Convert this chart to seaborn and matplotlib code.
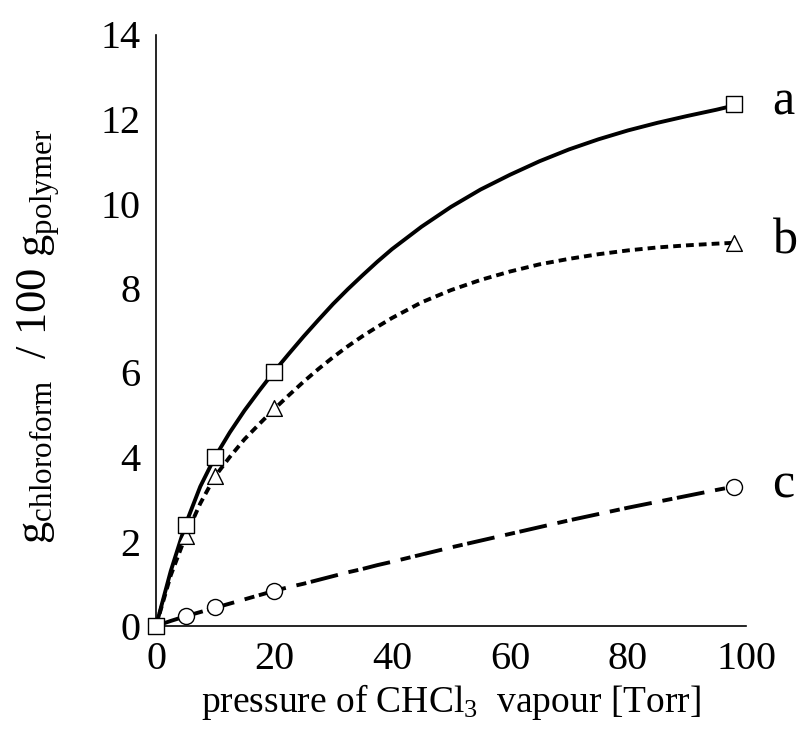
import numpy as np
import pandas as pd
import matplotlib
matplotlib.use("Agg")
import matplotlib.pyplot as plt
import seaborn as sns

# measured points
pressure = [0, 5, 10, 20, 98]
uptake_a = [0, 2.4, 4.0, 6.02, 12.35]
uptake_b = [0, 2.12, 3.54, 5.15, 9.07]
uptake_c = [0, 0.24, 0.44, 0.84, 3.3]

# fitted curves
curve_p = [0, 2.5, 5, 7.5, 10, 12.5, 15, 17.5, 20, 22.5, 25, 27.5, 30, 32.5, 35, 37.5, 40,
           45, 50, 55, 60, 65, 70, 75, 80, 85, 90, 95, 98]
curve_a = [0, 1.3, 2.4, 3.3, 4.0, 4.58, 5.1, 5.57, 6.02, 6.44, 6.85, 7.24, 7.62, 7.97, 8.3,
           8.62, 8.92, 9.45, 9.92, 10.33, 10.68, 11.0, 11.28, 11.52, 11.73, 11.91, 12.07,
           12.22, 12.32]
curve_b = [0, 1.2, 2.12, 2.9, 3.54, 4.0, 4.42, 4.78, 5.13, 5.46, 5.78, 6.08, 6.36, 6.62, 6.86,
           7.08, 7.29, 7.66, 7.95, 8.19, 8.39, 8.56, 8.69, 8.8, 8.89, 8.96, 9.01, 9.05, 9.07]
curve_c = [0, 0.12, 0.23, 0.33, 0.43, 0.53, 0.63, 0.73, 0.83, 0.92, 1.0, 1.09, 1.18, 1.27,
           1.35, 1.44, 1.52, 1.69, 1.86, 2.02, 2.18, 2.34, 2.5, 2.65, 2.8, 2.94, 3.08, 3.22, 3.3]

series_labels = ["a", "b", "c"]
x_ticks = [0, 20, 40, 60, 80, 100]
y_ticks = [0, 2, 4, 6, 8, 10, 12, 14]

sns.set_theme(style="white")
plt.rcParams["font.family"] = ["Liberation Serif", "DejaVu Serif"]
plt.rcParams["mathtext.fontset"] = "custom"
plt.rcParams["mathtext.rm"] = "Liberation Serif"
plt.rcParams["mathtext.it"] = "Liberation Serif:italic"
plt.rcParams["mathtext.bf"] = "Liberation Serif:bold"

fig = plt.figure(figsize=(7.98, 7.40), dpi=100)
ax = fig.add_axes([156 / 798, 1 - 626 / 740, 590 / 798, (626 - 34.5) / 740])

lw = 2.8
sns.lineplot(x=curve_p, y=curve_a, color="black", lw=lw, ax=ax, sort=False, zorder=3)
sns.lineplot(x=curve_p, y=curve_b, color="black", lw=lw, ax=ax, sort=False, zorder=3,
             linestyle=(0, (2.0, 1.3)))
sns.lineplot(x=curve_p, y=curve_c, color="black", lw=lw, ax=ax, sort=False, zorder=3,
             linestyle=(0, (7.2, 2.8, 2.6, 1.2)))

sns.scatterplot(x=pressure[1:], y=uptake_c[1:], marker="o", s=133, facecolor="white",
                edgecolor="black", linewidth=1.0, ax=ax, zorder=5, clip_on=False)
sns.scatterplot(x=pressure[1:], y=uptake_b[1:], marker="^", s=128, facecolor="white",
                edgecolor="black", linewidth=1.0, ax=ax, zorder=5, clip_on=False)
sns.scatterplot(x=pressure, y=uptake_a, marker="s", s=144, facecolor="white",
                edgecolor="black", linewidth=1.0, ax=ax, zorder=6, clip_on=False)

for lab, vals in zip(series_labels, [uptake_a, uptake_b, uptake_c]):
    ax.text(104.5, vals[-1] - 0.25, lab, fontsize=36, ha="left", va="baseline",
            color="black", clip_on=False)

ax.set_xlim(0, 100)
ax.set_ylim(0, 14)
ax.set_xticks(x_ticks)
ax.set_yticks(y_ticks)
ax.tick_params(direction="in", length=7, width=1, labelsize=29, pad=11, colors="black")
for side in ["top", "right"]:
    ax.spines[side].set_visible(False)
for side in ["left", "bottom"]:
    ax.spines[side].set_color("black")
    ax.spines[side].set_linewidth(1.2)

ax.set_xlabel(r"pressure of CHCl$_{3}$  vapour [Torr]", fontsize=27, labelpad=3, color="black")
ax.set_ylabel(r"g$_{\mathregular{chloroform}}$  / 100 g$_{\mathregular{polymer}}$", fontsize=32,
              color="black")
ax.yaxis.set_label_coords(-0.16, 0.49)

fig.savefig("out.png", dpi=100, facecolor="white")
